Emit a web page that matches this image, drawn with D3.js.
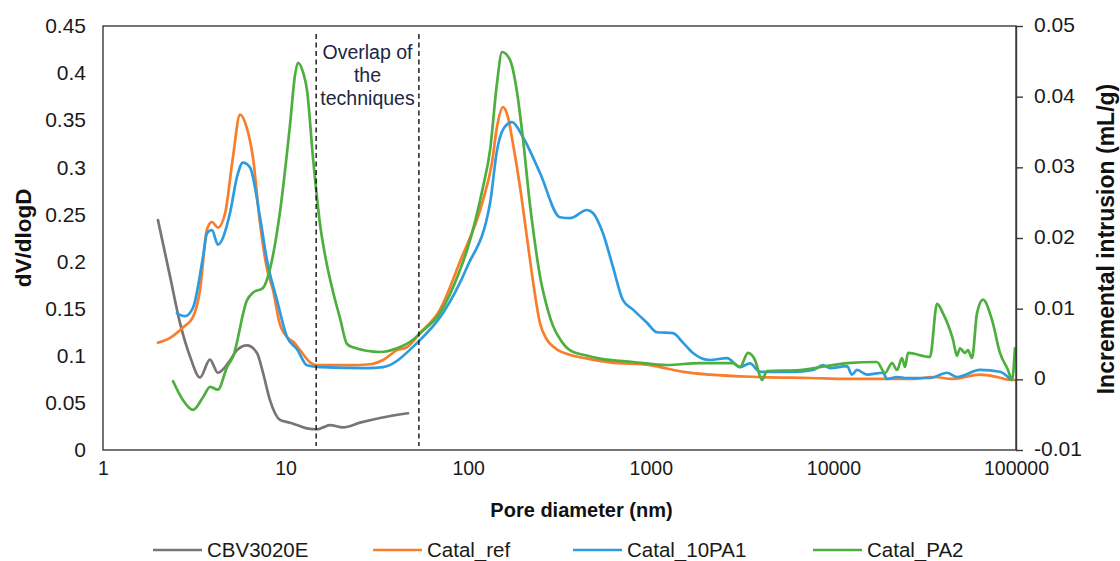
<!DOCTYPE html>
<html>
<head>
<meta charset="utf-8">
<script src="https://cdn.jsdelivr.net/npm/d3@7"></script>
<style>
  html, body { margin: 0; padding: 0; background: #ffffff; }
  svg { display: block; font-family: "Liberation Sans", Arial, sans-serif; }
</style>
</head>
<body>
<svg id="chart" width="1120" height="561"></svg>
<script>
// Pore size distribution: [pore diameter (nm), dV/dlogD]
const cbv3020e = [
  [2.00, 0.244], [2.33, 0.184], [2.64, 0.135], [3.00, 0.099], [3.40, 0.077],
  [3.85, 0.096], [4.26, 0.082], [4.96, 0.095], [5.42, 0.106], [6.15, 0.111],
  [6.97, 0.103], [7.52, 0.082], [8.21, 0.053], [9.32, 0.032], [10.57, 0.029],
  [11.55, 0.0265], [13.1, 0.023], [14.86, 0.022], [16.03, 0.024], [17.51, 0.0265],
  [20.62, 0.024], [25.55, 0.029], [32.89, 0.034], [46.8, 0.039]
];

const catalRef = [
  [2.00, 0.114], [2.33, 0.119], [2.74, 0.130], [3.11, 0.141], [3.40, 0.170],
  [3.71, 0.234], [3.95, 0.242], [4.26, 0.236], [4.66, 0.251], [5.15, 0.311],
  [5.63, 0.356], [6.15, 0.341], [6.63, 0.310], [7.24, 0.241], [7.91, 0.192],
  [8.53, 0.170], [9.32, 0.133], [10.57, 0.117], [10.98, 0.115], [11.99, 0.106],
  [13.61, 0.093], [14.86, 0.090], [17.51, 0.090], [22.53, 0.090], [28.99, 0.091],
  [34.16, 0.0955], [40.75, 0.106], [46.2, 0.109], [54.45, 0.124], [70.09, 0.149],
  [90.19, 0.200], [120.5, 0.265], [135.0, 0.305], [143.8, 0.343], [155.1, 0.364],
  [165.2, 0.353], [175.9, 0.325], [192, 0.280], [210, 0.225], [230, 0.170],
  [247, 0.135], [270, 0.117], [300, 0.108], [360, 0.101], [450, 0.097],
  [598, 0.093], [990, 0.090], [1123, 0.088], [1501, 0.083],
  [2110, 0.080], [3963, 0.0775], [7446, 0.0764], [11870, 0.0754], [27290, 0.0754],
  [35110, 0.0775], [45180, 0.0754], [63500, 0.080], [78700, 0.0775], [92700, 0.0743],
  [100000, 0.0743]
];

const catal10PA1 = [
  [2.54, 0.145], [2.81, 0.142], [3.11, 0.151], [3.53, 0.205], [3.71, 0.230],
  [3.95, 0.2335], [4.26, 0.218], [4.96, 0.2515], [5.42, 0.290], [5.84, 0.305],
  [6.38, 0.300], [7.24, 0.247], [7.91, 0.201], [8.97, 0.159], [10.18, 0.120],
  [11.55, 0.107], [13.10, 0.090], [15.43, 0.088], [27.92, 0.087], [34.16, 0.088],
  [52.44, 0.1136], [72.79, 0.1454], [98.49, 0.194], [131.7, 0.262], [143.8, 0.318],
  [155.1, 0.340], [173.8, 0.348], [199.6, 0.332], [247.4, 0.294], [318.2, 0.247],
  [360.9, 0.246], [447, 0.2547], [482, 0.2515], [547, 0.230], [621, 0.194],
  [704, 0.159], [799, 0.149], [953, 0.135], [1081, 0.125], [1323, 0.124],
  [1501, 0.114], [1702, 0.103], [2110, 0.0955], [2615, 0.0976], [3079, 0.088],
  [3494, 0.092], [3963, 0.083], [6008, 0.083], [7733, 0.085], [8774, 0.090],
  [9582, 0.087], [11870, 0.089], [12650, 0.080], [13470, 0.085], [15280, 0.080],
  [18690, 0.082], [19660, 0.0754], [22300, 0.0775], [25300, 0.0764], [33810, 0.0764],
  [41890, 0.082], [47520, 0.0775], [63500, 0.085], [81720, 0.083], [92700, 0.0754]
];

const catalPA2 = [
  [2.42, 0.073], [2.74, 0.053], [3.11, 0.0425], [3.53, 0.056], [3.86, 0.067],
  [4.26, 0.064], [4.78, 0.088], [5.15, 0.099], [6.15, 0.159], [6.63, 0.167],
  [7.52, 0.172], [8.21, 0.192], [9.32, 0.253], [10.57, 0.345], [11.26, 0.398],
  [11.69, 0.411], [12.45, 0.401], [13.10, 0.382], [14.13, 0.310], [15.43, 0.240],
  [16.86, 0.196], [18.18, 0.168], [19.86, 0.140], [21.69, 0.1125], [23.40, 0.109],
  [32.89, 0.104], [40.75, 0.108], [49.86, 0.117], [54.45, 0.124], [70.09, 0.1454],
  [90.19, 0.191], [98.49, 0.212], [120.5, 0.279], [131.7, 0.318], [143.8, 0.3895],
  [153.2, 0.4224], [169.4, 0.414], [185.0, 0.380], [199.6, 0.330], [218, 0.260],
  [230, 0.225], [247, 0.185], [270, 0.152], [291, 0.132], [320, 0.117],
  [360, 0.106], [450, 0.100], [527, 0.097], [799, 0.0934],
  [1227, 0.0902], [1859, 0.0923], [2820, 0.0923], [3079, 0.0881], [3407, 0.103],
  [3721, 0.0955], [4064, 0.0743], [4329, 0.0838], [6564, 0.0849], [11870, 0.0923],
  [17330, 0.0934], [19170, 0.0817], [20940, 0.0923], [22300, 0.0849], [23750, 0.0976],
  [24670, 0.0881], [25620, 0.103], [33810, 0.0987], [36930, 0.155], [39830, 0.145],
  [45180, 0.117], [47520, 0.100], [49350, 0.108], [52560, 0.103], [54580, 0.106],
  [57410, 0.0976], [61150, 0.145], [65960, 0.1595], [73890, 0.138], [81720, 0.103],
  [90400, 0.0849], [95080, 0.0743], [98700, 0.108]
];

const seriesNames = ["CBV3020E", "Catal_ref", "Catal_10PA1", "Catal_PA2"];
const seriesData = [cbv3020e, catalRef, catal10PA1, catalPA2];
const seriesColors = ["#7c7374", "#f97d2b", "#2d9be0", "#4daf3e"];

const xTicks = [1, 10, 100, 1000, 10000, 100000];
const leftTicks = [0, 0.05, 0.1, 0.15, 0.2, 0.25, 0.3, 0.35, 0.4, 0.45];
const rightTicks = [-0.01, 0, 0.01, 0.02, 0.03, 0.04, 0.05];
const overlapBounds = [14.7, 53.7];
const overlapLines = ["Overlap of", "the", "techniques"];

const svg = d3.select("#chart");
const plot = { left: 103, right: 1016, top: 26, bottom: 450 };

const x = d3.scaleLog().domain([1, 100000]).range([plot.left, plot.right]);
const yL = d3.scaleLinear().domain([0, 0.45]).range([plot.bottom, plot.top]);
const yR = d3.scaleLinear().domain([-0.01, 0.05]).range([plot.bottom, plot.top]);

const fmt = d => String(+d.toFixed(2));
const textColor = "#1a1a1a";

// Series lines
const line = d3.line()
  .x(d => x(d[0]))
  .y(d => yL(d[1]))
  .curve(d3.curveMonotoneX);

svg.append("g")
  .selectAll("path")
  .data(seriesData)
  .join("path")
  .attr("d", line)
  .attr("fill", "none")
  .attr("stroke", (d, i) => seriesColors[i])
  .attr("stroke-width", 2.7)
  .attr("stroke-linejoin", "round")
  .attr("stroke-linecap", "round");

// Dashed markers for the overlap region
svg.append("g")
  .selectAll("line")
  .data(overlapBounds)
  .join("line")
  .attr("x1", d => x(d)).attr("x2", d => x(d))
  .attr("y1", 34).attr("y2", 446)
  .attr("stroke", "#111")
  .attr("stroke-width", 1.4)
  .attr("stroke-dasharray", "5,3.5");

svg.append("g")
  .selectAll("text")
  .data(overlapLines)
  .join("text")
  .attr("x", (x(overlapBounds[0]) + x(overlapBounds[1])) / 2)
  .attr("y", (d, i) => 59 + i * 23)
  .attr("text-anchor", "middle")
  .attr("font-size", 19.5)
  .attr("fill", "#1e2640")
  .text(d => d);

// Plot frame
svg.append("rect")
  .attr("x", plot.left).attr("y", plot.top)
  .attr("width", plot.right - plot.left)
  .attr("height", plot.bottom - plot.top)
  .attr("fill", "none")
  .attr("stroke", "#3a3a3a")
  .attr("stroke-width", 1.4);

// Bottom axis (labels only)
const xAxis = d3.axisBottom(x).tickValues(xTicks).tickSize(0).tickPadding(11)
  .tickFormat(d3.format("d"));
const gx = svg.append("g").attr("transform", `translate(0,${plot.bottom})`).call(xAxis);
gx.select(".domain").remove();
gx.selectAll("text").attr("font-size", 19.5).attr("fill", textColor)
  .attr("font-family", "Liberation Sans, Arial, sans-serif");

// Left axis (labels only)
const yAxisL = d3.axisLeft(yL).tickValues(leftTicks).tickSize(0).tickPadding(17)
  .tickFormat(fmt);
const gl = svg.append("g").attr("transform", `translate(${plot.left},0)`).call(yAxisL);
gl.select(".domain").remove();
gl.selectAll("text").attr("font-size", 21).attr("fill", textColor)
  .attr("font-family", "Liberation Sans, Arial, sans-serif");

// Right axis with outward ticks
const yAxisR = d3.axisRight(yR).tickValues(rightTicks).tickSizeInner(7).tickSizeOuter(0)
  .tickPadding(11).tickFormat(fmt);
const gr = svg.append("g").attr("transform", `translate(${plot.right},0)`).call(yAxisR);
gr.select(".domain").attr("stroke", "#3a3a3a").attr("stroke-width", 1.4);
gr.selectAll(".tick line").attr("stroke", "#3a3a3a").attr("stroke-width", 1.4);
gr.selectAll("text").attr("font-size", 21).attr("fill", textColor)
  .attr("font-family", "Liberation Sans, Arial, sans-serif")
  .attr("dy", "0.26em");

// Axis titles
svg.append("text")
  .attr("x", (plot.left + plot.right) / 2 + 22).attr("y", 517)
  .attr("text-anchor", "middle")
  .attr("font-size", 20).attr("font-weight", "bold").attr("fill", "#111")
  .text("Pore diameter (nm)");

svg.append("text")
  .attr("transform", "translate(31,238) rotate(-90)")
  .attr("text-anchor", "middle")
  .attr("font-size", 22.5).attr("font-weight", "bold").attr("fill", "#111")
  .text("dV/dlogD");

svg.append("text")
  .attr("transform", "translate(1114,239) rotate(-90)")
  .attr("text-anchor", "middle")
  .attr("font-size", 23).attr("font-weight", "bold").attr("fill", "#111")
  .text("Incremental intrusion (mL/g)");

// Legend
const legendX = [153, 373, 573, 813];
const legend = svg.append("g")
  .selectAll("g")
  .data(seriesNames)
  .join("g")
  .attr("transform", (d, i) => `translate(${legendX[i]},550)`);

legend.append("line")
  .attr("x1", 0).attr("x2", 49).attr("y1", 0).attr("y2", 0)
  .attr("stroke", (d, i) => seriesColors[i])
  .attr("stroke-width", 2.7);

legend.append("text")
  .attr("x", 54).attr("y", 7)
  .attr("font-size", 20.5).attr("fill", textColor)
  .text(d => d);
</script>
</body>
</html>
